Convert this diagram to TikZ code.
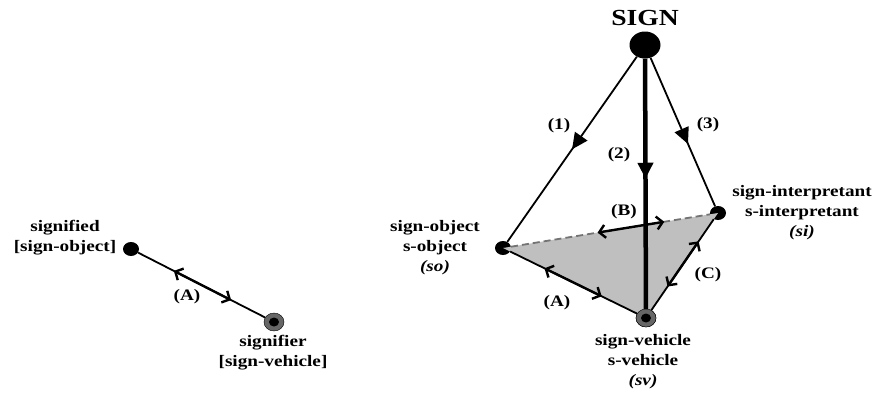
\documentclass[tikz,border=0pt]{standalone}
\usepackage{fontspec}
\setmainfont{Liberation Serif}[FakeStretch=1.2]
\usetikzlibrary{arrows.meta,positioning,calc,decorations.markings,shapes.geometric}

\begin{document}
\begin{tikzpicture}[x=1pt, y=-1pt,
    dot/.style={ellipse, fill=black, inner sep=0pt, minimum width=16pt,
                minimum height=14pt},
    ring/.style={ellipse, draw=black, fill=black!60, inner sep=0pt,
                 minimum width=20pt, minimum height=18pt,
                 path picture={\fill[black] (path picture bounding box.center)
                               ellipse (5pt and 4.5pt);}},
    lbl/.style={font=\bfseries\fontsize{16}{20}\selectfont, align=center},
    edge/.style={line width=1.8pt},
    midhead/.style={postaction={decorate},
                    decoration={markings, mark=at position #1 with
                    {\arrow{Triangle[length=16pt,width=15pt]}}}},
    dbl/.style={line width=2.4pt,
                {Straight Barb[length=6pt,width=13pt]}-{Straight Barb[length=6pt,width=13pt]}}]

    \useasboundingbox (0,0) rectangle (875,392);

    % Dyadic model
    \node[dot] (sd) at (131,249) {};
    \node[ring] (sr) at (274,322) {};
    \draw[edge] (sd) -- (sr);
    \coordinate (a1) at ($(sd)!0.3!(sr)$);
    \coordinate (a2) at ($(sd)!0.7!(sr)$);
    \draw[dbl] (a1) -- (a2);

    \node[lbl] (sdlbl) at (65,238) {signified\\{[}sign-object{]}};
    \node[lbl] (srlbl) at (273,353) {signifier\\{[}sign-vehicle{]}};
    \node[lbl] (alblL) at (187,297) {(A)};

    % Triadic model
    \node[dot, minimum width=31pt, minimum height=27pt] (sign) at (645,45) {};
    \node[dot] (so) at (503,248) {};
    \node[dot] (si) at (718,213) {};
    \node[ring] (sv) at (646,318) {};

    \fill[black!25] (so.center) -- (si.center) -- (sv.center) -- cycle;
    \draw[edge, dash pattern=on 7pt off 4pt, black!55] (so) -- (si);
    \draw[edge] (so) -- (sv);
    \draw[edge] (sv) -- (si);

    \coordinate (b1) at ($(so)!0.44!(si)$);
    \coordinate (b2) at ($(so)!0.75!(si)$);
    \draw[dbl] (b1) -- (b2);
    \coordinate (t1) at ($(so)!0.29!(sv)$);
    \coordinate (t2) at ($(so)!0.69!(sv)$);
    \draw[dbl] (t1) -- (t2);
    \coordinate (c1) at ($(sv)!0.3!(si)$);
    \coordinate (c2) at ($(sv)!0.73!(si)$);
    \draw[dbl] (c1) -- (c2);

    \draw[edge, midhead=0.5] (sign) -- (so);
    \draw[line width=4.5pt, midhead=0.48] (sign) -- (sv);
    \draw[edge, midhead=0.58] (sign) -- (si);
    \node[ring] at (sv) {};

    % Labels
    \node[font=\bfseries\fontsize{23}{26}\selectfont] (signlbl) at (645,18) {SIGN};
    \node[lbl] (n1) at (559,126) {(1)};
    \node[lbl] (n2) at (619,155) {(2)};
    \node[lbl] (n3) at (708,125) {(3)};
    \node[lbl] (alblR) at (557,303) {(A)};
    \node[lbl] (blbl) at (624,212) {(B)};
    \node[lbl] (clbl) at (708,275) {(C)};

    \node[lbl] (solbl) at (435,248) {sign-object\\s-object\\\textit{(so)}};
    \node[lbl] (silbl) at (802,213) {sign-interpretant\\s-interpretant\\\textit{(si)}};
    \node[lbl] (svlbl) at (643,362) {sign-vehicle\\s-vehicle\\\textit{(sv)}};
\end{tikzpicture}
\end{document}
